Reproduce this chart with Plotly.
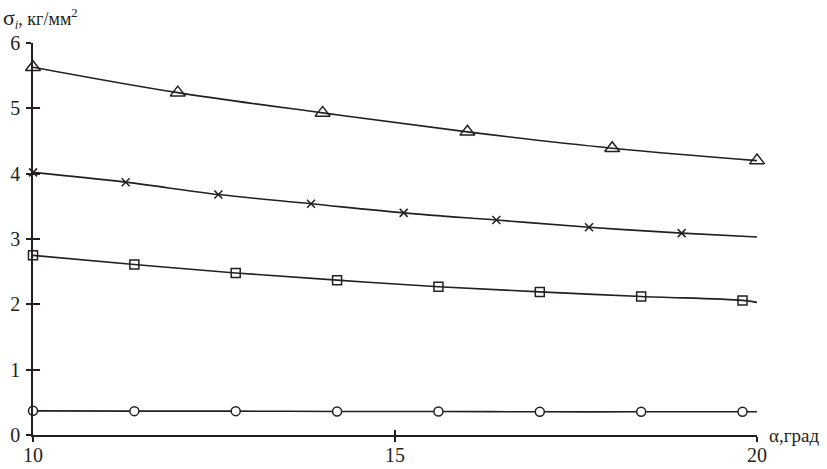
import plotly.graph_objects as go

# Data
alpha_tri = [10, 12, 14, 16, 18, 20]
sigma_tri = [5.63, 5.24, 4.93, 4.64, 4.39, 4.20]

alpha_x = [10, 11.28, 12.56, 13.84, 15.12, 16.4, 17.68, 18.96]
sigma_x = [4.02, 3.87, 3.68, 3.54, 3.40, 3.29, 3.18, 3.09]
end_x = 3.03

alpha_sq = [10, 11.4, 12.8, 14.2, 15.6, 17.0, 18.4, 19.8]
sigma_sq = [2.75, 2.61, 2.48, 2.37, 2.27, 2.19, 2.12, 2.06]
end_sq = 2.03

alpha_c = [10, 11.4, 12.8, 14.2, 15.6, 17.0, 18.4, 19.8]
sigma_c = [0.37, 0.365, 0.365, 0.36, 0.36, 0.355, 0.355, 0.355]
end_c = 0.355

x_ticks = [10, 15, 20]
y_ticks = [0, 1, 2, 3, 4, 5, 6]

FONT = "Liberation Serif, Times New Roman, serif"
INK = "#231f20"

fig = go.Figure()

series = [
    (alpha_tri, sigma_tri, None, "triangle-up-open", 13, INK),
    (alpha_x, sigma_x, end_x, "x-thin-open", 8, INK),
    (alpha_sq, sigma_sq, end_sq, "square-open", 9, INK),
    (alpha_c, sigma_c, end_c, "circle", 9, "white"),
]

for ax, sy, end, sym, size, fill in series:
    lx = list(ax)
    ly = list(sy)
    if end is not None and lx[-1] < 20:
        lx.append(20)
        ly.append(end)
    fig.add_trace(go.Scatter(x=lx, y=ly, mode="lines",
                             line=dict(color=INK, width=1.6, shape="spline", smoothing=1.0),
                             hoverinfo="skip", showlegend=False))
    fig.add_trace(go.Scatter(x=ax, y=sy, mode="markers", cliponaxis=False,
                             marker=dict(symbol=sym, size=size, color=fill,
                                         line=dict(color=INK, width=1.5)),
                             showlegend=False))

# invisible trace on overlay axes so they render
fig.add_trace(go.Scatter(x=[10], y=[0], xaxis="x2", yaxis="y2", mode="markers",
                         marker=dict(opacity=0), hoverinfo="skip", showlegend=False))

axis_common = dict(showgrid=False, zeroline=False, showline=True, linecolor=INK, linewidth=1.5,
                   tickcolor=INK, tickwidth=1.5, ticklen=5, automargin=False,
                   tickfont=dict(family=FONT, size=20, color=INK))

fig.update_layout(
    width=827, height=469,
    margin=dict(l=33, r=70, t=43, b=34),
    paper_bgcolor="white", plot_bgcolor="white",
    xaxis=dict(range=[10, 20], tickvals=x_ticks, ticks="outside", ticklabelstandoff=-4,
               **axis_common),
    yaxis=dict(range=[0, 6], tickvals=y_ticks, ticks="outside", ticklabelstandoff=2,
               **axis_common),
    xaxis2=dict(range=[10, 20], tickvals=x_ticks, ticks="inside", overlaying="x",
                showticklabels=False, showgrid=False, zeroline=False, showline=False,
                tickcolor=INK, tickwidth=1.5, ticklen=5, automargin=False),
    yaxis2=dict(range=[0, 6], tickvals=y_ticks, ticks="inside", overlaying="y",
                showticklabels=False, showgrid=False, zeroline=False, showline=False,
                tickcolor=INK, tickwidth=1.5, ticklen=7, automargin=False),
    annotations=[
        dict(text="<span style='font-size:22px'>σ</span><sub><i>i</i></sub>, кг/мм<sup>2</sup>",
             xref="paper", yref="paper",
             x=-32 / 724, y=1 + 40 / 392, xanchor="left", yanchor="top",
             showarrow=False, font=dict(family=FONT, size=18, color=INK)),
        dict(text="α,град", xref="paper", yref="paper",
             x=1 + 10 / 724, y=0, xanchor="left", yanchor="middle",
             showarrow=False, font=dict(family=FONT, size=19, color=INK)),
    ],
)

fig.write_html("out.html", config={"displayModeBar": False},
               post_script="document.body.style.margin='0';document.body.style.overflow='hidden';")
